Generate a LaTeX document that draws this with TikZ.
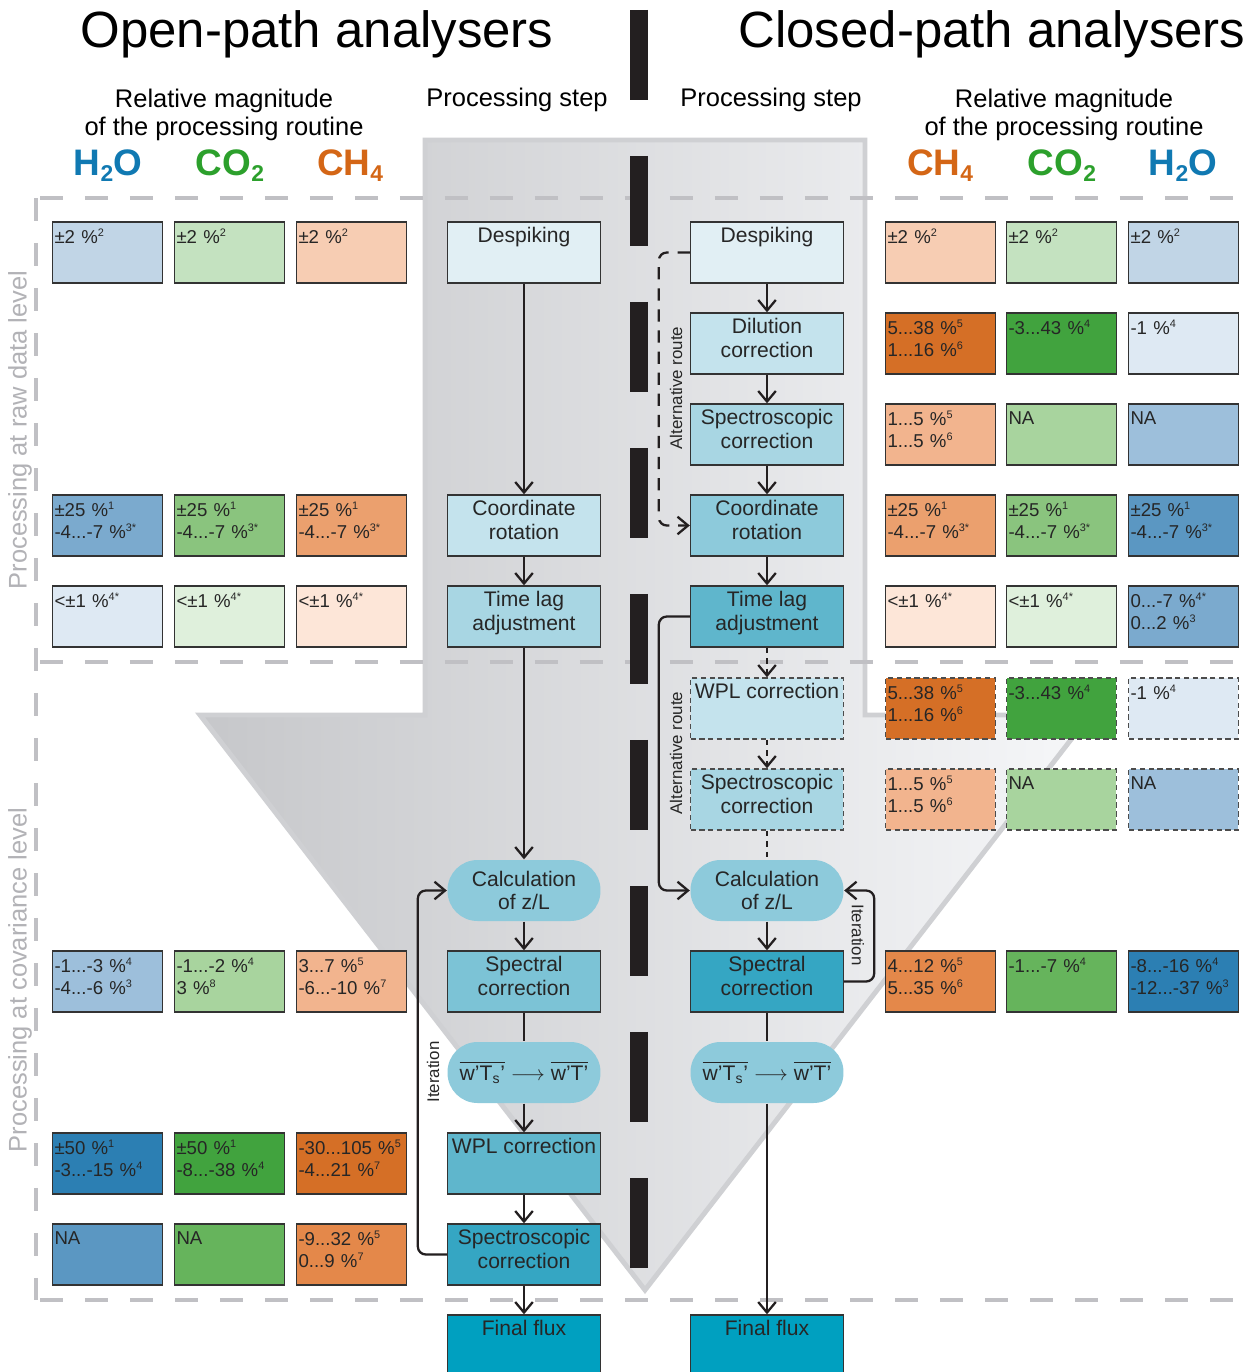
\documentclass[tikz,border=0pt]{standalone}
\usepackage{amsmath}
\usepackage{fontspec}
\setmainfont{Liberation Sans}
\usepackage{tikz}
\usetikzlibrary{positioning,arrows.meta}
\definecolor{h2oCol}{RGB}{16,121,178}
\definecolor{co2Col}{RGB}{44,160,44}
\definecolor{ch4Col}{RGB}{212,102,22}
\definecolor{h2oA}{RGB}{222,233,243}
\definecolor{h2oB}{RGB}{193,213,230}
\definecolor{h2oC}{RGB}{157,191,219}
\definecolor{h2oD}{RGB}{123,170,206}
\definecolor{h2oE}{RGB}{91,151,194}
\definecolor{h2oF}{RGB}{44,127,179}
\definecolor{co2A}{RGB}{223,240,220}
\definecolor{co2B}{RGB}{196,226,192}
\definecolor{co2C}{RGB}{168,212,158}
\definecolor{co2D}{RGB}{138,196,126}
\definecolor{co2E}{RGB}{102,180,92}
\definecolor{co2F}{RGB}{65,163,62}
\definecolor{ch4A}{RGB}{253,230,216}
\definecolor{ch4B}{RGB}{247,205,179}
\definecolor{ch4C}{RGB}{242,180,142}
\definecolor{ch4D}{RGB}{235,160,110}
\definecolor{ch4E}{RGB}{228,136,74}
\definecolor{ch4F}{RGB}{213,111,38}
\definecolor{stepA}{RGB}{225,239,244}
\definecolor{stepB}{RGB}{196,227,237}
\definecolor{stepC}{RGB}{168,214,227}
\definecolor{stepD}{RGB}{141,202,219}
\definecolor{stepDE}{RGB}{124,195,214}
\definecolor{stepE}{RGB}{95,182,204}
\definecolor{stepF}{RGB}{53,166,195}
\definecolor{stepG}{RGB}{0,160,192}
\definecolor{sepCol}{RGB}{192,192,196}
\definecolor{sideCol}{RGB}{178,178,182}
\definecolor{bigArrowL}{RGB}{198,199,202}
\definecolor{bigArrowR}{RGB}{246,247,249}
\definecolor{bigArrowEdge}{RGB}{207,208,211}
\definecolor{lineCol}{RGB}{35,31,32}
\newcommand{\magref}[1]{\textsuperscript{\fontsize{6.2}{6.2}\selectfont #1}}
\newcommand{\gassub}[1]{\raisebox{-0.3ex}{\fontsize{13}{13}\selectfont #1}}
\newcommand{\twolines}[2]{#1\\#2\rule[-6pt]{0pt}{6pt}}
\newcommand{\boxfont}{\fontsize{12}{13.6}\selectfont}
\newcommand{\valfont}{\fontsize{10.6}{12.5}\selectfont}
\newcommand{\headfont}{\fontsize{14.5}{16.4}\selectfont}
\tikzset{myProcBox/.style={draw=black!80, line width=0.8pt, minimum width=3.06cm, minimum height=1.22cm, inner sep=1pt, align=center, font=\boxfont, text=black!85}}
\tikzset{myCapsule/.style={myProcBox, draw=none, rounded corners=0.6cm, fill=stepD}}
\tikzset{myValBox/.style={draw=black!80, line width=0.8pt, minimum width=2.18cm, minimum height=1.22cm, text width=2.12cm, inner sep=1pt, align=left, font=\valfont, text=black!85}}
\tikzset{myOptional/.style={draw=black!70, dash pattern=on 3pt off 2pt}}
\tikzset{myConn/.style={line width=1.3pt, draw=lineCol, -{Straight Barb[length=6pt,width=10pt]}}}
\tikzset{mySep/.style={line width=2.3pt, draw=sepCol, dash pattern=on 0.46cm off 0.44cm}}
\tikzset{myGasLabel/.style={font=\fontsize{21}{21}\selectfont\bfseries}}
\tikzset{mySmallLabel/.style={font=\fontsize{9.6}{10}\selectfont, text=black!85}}

\begin{document}
\begin{tikzpicture}[x=0.02cm, y=-0.02cm]
	\fill[white] (0,0) rectangle (1251,1372);
	\useasboundingbox (0,0) rectangle (1251,1372);
	% big background arrow
	\draw[draw=bigArrowEdge, line width=2.8pt, left color=bigArrowL, right color=bigArrowR] (425,140) -- (865,140) -- (865,715) -- (1090,715) -- (645,1290) -- (200,715) -- (425,715) -- cycle;
	\draw[mySep] (40,198) -- (1251,198);
	\draw[mySep] (40,662) -- (1251,662);
	\draw[mySep] (40,1300) -- (1251,1300);
	\draw[mySep] (36,198) -- (36,1300);
	\draw[line width=0.36cm, draw=lineCol, dash pattern=on 1.8cm off 1.12cm] (639,10) -- (639,1268);
	
	\node[font=\fontsize{29}{30}\selectfont] (titleOpen) at (317,34) {Open-path analysers};
	\node[font=\fontsize{29}{30}\selectfont] (titleClosed) at (992,34) {Closed-path analysers};
	\node[font=\headfont, align=center] (magLeft) at (224,115) {Relative magnitude\\of the processing routine};
	\node[font=\headfont, align=center] (magRight) at (1064,115) {Relative magnitude\\of the processing routine};
	\node[font=\headfont] (stepLeft) at (517,100) {Processing step};
	\node[font=\headfont] (stepRight) at (771,100) {Processing step};
	\node[myGasLabel, text=h2oCol] (gasLA) at (108,166) {H\gassub{2}O};
	\node[myGasLabel, text=co2Col] (gasLB) at (230,166) {CO\gassub{2}};
	\node[myGasLabel, text=ch4Col] (gasLC) at (350,166) {CH\gassub{4}};
	\node[myGasLabel, text=ch4Col] (gasRA) at (940,166) {CH\gassub{4}};
	\node[myGasLabel, text=co2Col] (gasRB) at (1062,166) {CO\gassub{2}};
	\node[myGasLabel, text=h2oCol] (gasRC) at (1183,166) {H\gassub{2}O};
	\node[font=\headfont, text=sideCol, rotate=90] (sideRaw) at (20,430) {Processing at raw data level};
	\node[font=\headfont, text=sideCol, rotate=90] (sideCov) at (20,980) {Processing at covariance level};
	
	% open-path steps
	\node[myProcBox, fill=stepA] (lDespike) at (524,252.5) {\twolines{Despiking}{}};
	\node[myProcBox, fill=stepB] (lRotate) at (524,525.5) {\twolines{Coordinate}{rotation}};
	\node[myProcBox, fill=stepC] (lTimeLag) at (524,616.5) {\twolines{Time lag}{adjustment}};
	\node[myCapsule] (lZL) at (524,890.5) {Calculation\\of z/L};
	\node[myProcBox, fill=stepDE] (lSpectral) at (524,981.5) {\twolines{Spectral}{correction}};
	\node[myCapsule] (lWT) at (524,1072.5) {$\overline{\text{w’T\textsubscript{s}’}}\longrightarrow\overline{\text{w’T’}}$};
	\node[myProcBox, fill=stepE] (lWPL) at (524,1163.5) {\twolines{WPL correction}{}};
	\node[myProcBox, fill=stepF] (lSpectro) at (524,1254.5) {\twolines{Spectroscopic}{correction}};
	\node[myProcBox, fill=stepG] (lFlux) at (524,1345.5) {\twolines{Final flux}{}};
	
	% closed-path steps
	\node[myProcBox, fill=stepA] (rDespike) at (767,252.5) {\twolines{Despiking}{}};
	\node[myProcBox, fill=stepB] (rDilution) at (767,343.5) {\twolines{Dilution}{correction}};
	\node[myProcBox, fill=stepC] (rSpectro) at (767,434.5) {\twolines{Spectroscopic}{correction}};
	\node[myProcBox, fill=stepD] (rRotate) at (767,525.5) {\twolines{Coordinate}{rotation}};
	\node[myProcBox, fill=stepE] (rTimeLag) at (767,616.5) {\twolines{Time lag}{adjustment}};
	\node[myProcBox, myOptional, fill=stepB] (rWPL) at (767,708.5) {\twolines{WPL correction}{}};
	\node[myProcBox, myOptional, fill=stepC] (rSpectroB) at (767,799.5) {\twolines{Spectroscopic}{correction}};
	\node[myCapsule] (rZL) at (767,890.5) {Calculation\\of z/L};
	\node[myProcBox, fill=stepF] (rSpectral) at (767,981.5) {\twolines{Spectral}{correction}};
	\node[myCapsule] (rWT) at (767,1072.5) {$\overline{\text{w’T\textsubscript{s}’}}\longrightarrow\overline{\text{w’T’}}$};
	\node[myProcBox, fill=stepG] (rFlux) at (767,1345.5) {\twolines{Final flux}{}};
	
	\draw[myConn] (lDespike) -- (lRotate);
	\draw[myConn] (lRotate) -- (lTimeLag);
	\draw[myConn] (lTimeLag) -- (lZL);
	\draw[myConn] (lZL) -- (lSpectral);
	\draw[myConn, -] (lSpectral) -- (lWT);
	\draw[myConn] (lWT) -- (lWPL);
	\draw[myConn] (lWPL) -- (lSpectro);
	\draw[myConn] (lSpectro) -- (lFlux);
	\draw[myConn, rounded corners=0.16cm] (lSpectro.west) -- ++(-29,0) |- (lZL.west);
	\node[mySmallLabel, rotate=90] (iterLeft) at (433,1072) {Iteration};
	
	\draw[myConn] (rDespike) -- (rDilution);
	\draw[myConn] (rDilution) -- (rSpectro);
	\draw[myConn] (rSpectro) -- (rRotate);
	\draw[myConn] (rRotate) -- (rTimeLag);
	\draw[myConn, dash pattern=on 3pt off 3pt] (rTimeLag) -- (rWPL);
	\draw[myConn, dash pattern=on 3pt off 3pt] (rWPL) -- (rSpectroB);
	\draw[myConn, -, dash pattern=on 3pt off 3pt] (rSpectroB) -- (rZL);
	\draw[myConn] (rZL) -- (rSpectral);
	\draw[myConn, -] (rSpectral) -- (rWT);
	\draw[myConn] (rWT) -- (rFlux);
	\draw[myConn, dash pattern=on 7pt off 5pt, rounded corners=0.16cm] (rDespike.west) -- ++(-31,0) |- (rRotate.west);
	\node[mySmallLabel, rotate=90] (altRouteA) at (676,388) {Alternative route};
	\draw[myConn, rounded corners=0.16cm] (rTimeLag.west) -- ++(-31,0) |- (rZL.west);
	\node[mySmallLabel, rotate=90] (altRouteB) at (676,753) {Alternative route};
	\draw[myConn, rounded corners=0.16cm] (rSpectral.east) -- ++(30,0) |- (rZL.east);
	\node[mySmallLabel, rotate=-90] (iterRight) at (858,935) {Iteration};
	
	% open-path magnitudes
	\node[myValBox, fill=h2oB] (lH2oDespike) at (107.5,252.5) {\twolines{±2 \%\magref{2}}{}};
	\node[myValBox, fill=co2B] (lCo2Despike) at (229.5,252.5) {\twolines{±2 \%\magref{2}}{}};
	\node[myValBox, fill=ch4B] (lCh4Despike) at (351.5,252.5) {\twolines{±2 \%\magref{2}}{}};
	\node[myValBox, fill=h2oD] (lH2oRotate) at (107.5,525.5) {\twolines{±25 \%\magref{1}}{-4...-7 \%\magref{3*}}};
	\node[myValBox, fill=co2D] (lCo2Rotate) at (229.5,525.5) {\twolines{±25 \%\magref{1}}{-4...-7 \%\magref{3*}}};
	\node[myValBox, fill=ch4D] (lCh4Rotate) at (351.5,525.5) {\twolines{±25 \%\magref{1}}{-4...-7 \%\magref{3*}}};
	\node[myValBox, fill=h2oA] (lH2oTimeLag) at (107.5,616.5) {\twolines{<±1 \%\magref{4*}}{}};
	\node[myValBox, fill=co2A] (lCo2TimeLag) at (229.5,616.5) {\twolines{<±1 \%\magref{4*}}{}};
	\node[myValBox, fill=ch4A] (lCh4TimeLag) at (351.5,616.5) {\twolines{<±1 \%\magref{4*}}{}};
	\node[myValBox, fill=h2oC] (lH2oSpectral) at (107.5,981.5) {\twolines{-1...-3 \%\magref{4}}{-4...-6 \%\magref{3}}};
	\node[myValBox, fill=co2C] (lCo2Spectral) at (229.5,981.5) {\twolines{-1...-2 \%\magref{4}}{3 \%\magref{8}}};
	\node[myValBox, fill=ch4C] (lCh4Spectral) at (351.5,981.5) {\twolines{3...7 \%\magref{5}}{-6...-10 \%\magref{7}}};
	\node[myValBox, fill=h2oF] (lH2oWPL) at (107.5,1163.5) {\twolines{±50 \%\magref{1}}{-3...-15 \%\magref{4}}};
	\node[myValBox, fill=co2F] (lCo2WPL) at (229.5,1163.5) {\twolines{±50 \%\magref{1}}{-8...-38 \%\magref{4}}};
	\node[myValBox, fill=ch4F] (lCh4WPL) at (351.5,1163.5) {\twolines{-30...105 \%\magref{5}}{-4...21 \%\magref{7}}};
	\node[myValBox, fill=h2oE] (lH2oSpectro) at (107.5,1254.5) {\twolines{NA}{}};
	\node[myValBox, fill=co2E] (lCo2Spectro) at (229.5,1254.5) {\twolines{NA}{}};
	\node[myValBox, fill=ch4E] (lCh4Spectro) at (351.5,1254.5) {\twolines{-9...32 \%\magref{5}}{0...9 \%\magref{7}}};
	
	% closed-path magnitudes
	\node[myValBox, fill=ch4B] (rCh4Despike) at (940.5,252.5) {\twolines{±2 \%\magref{2}}{}};
	\node[myValBox, fill=co2B] (rCo2Despike) at (1061.5,252.5) {\twolines{±2 \%\magref{2}}{}};
	\node[myValBox, fill=h2oB] (rH2oDespike) at (1183.5,252.5) {\twolines{±2 \%\magref{2}}{}};
	\node[myValBox, fill=ch4F] (rCh4Dilution) at (940.5,343.5) {\twolines{5...38 \%\magref{5}}{1...16 \%\magref{6}}};
	\node[myValBox, fill=co2F] (rCo2Dilution) at (1061.5,343.5) {\twolines{-3...43 \%\magref{4}}{}};
	\node[myValBox, fill=h2oA] (rH2oDilution) at (1183.5,343.5) {\twolines{-1 \%\magref{4}}{}};
	\node[myValBox, fill=ch4C] (rCh4Spectro) at (940.5,434.5) {\twolines{1...5 \%\magref{5}}{1...5 \%\magref{6}}};
	\node[myValBox, fill=co2C] (rCo2Spectro) at (1061.5,434.5) {\twolines{NA}{}};
	\node[myValBox, fill=h2oC] (rH2oSpectro) at (1183.5,434.5) {\twolines{NA}{}};
	\node[myValBox, fill=ch4D] (rCh4Rotate) at (940.5,525.5) {\twolines{±25 \%\magref{1}}{-4...-7 \%\magref{3*}}};
	\node[myValBox, fill=co2D] (rCo2Rotate) at (1061.5,525.5) {\twolines{±25 \%\magref{1}}{-4...-7 \%\magref{3*}}};
	\node[myValBox, fill=h2oE] (rH2oRotate) at (1183.5,525.5) {\twolines{±25 \%\magref{1}}{-4...-7 \%\magref{3*}}};
	\node[myValBox, fill=ch4A] (rCh4TimeLag) at (940.5,616.5) {\twolines{<±1 \%\magref{4*}}{}};
	\node[myValBox, fill=co2A] (rCo2TimeLag) at (1061.5,616.5) {\twolines{<±1 \%\magref{4*}}{}};
	\node[myValBox, fill=h2oD] (rH2oTimeLag) at (1183.5,616.5) {\twolines{0...-7 \%\magref{4*}}{0...2 \%\magref{3}}};
	\node[myValBox, myOptional, fill=ch4F] (rCh4WPL) at (940.5,708.5) {\twolines{5...38 \%\magref{5}}{1...16 \%\magref{6}}};
	\node[myValBox, myOptional, fill=co2F] (rCo2WPL) at (1061.5,708.5) {\twolines{-3...43 \%\magref{4}}{}};
	\node[myValBox, myOptional, fill=h2oA] (rH2oWPL) at (1183.5,708.5) {\twolines{-1 \%\magref{4}}{}};
	\node[myValBox, myOptional, fill=ch4C] (rCh4SpectroB) at (940.5,799.5) {\twolines{1...5 \%\magref{5}}{1...5 \%\magref{6}}};
	\node[myValBox, myOptional, fill=co2C] (rCo2SpectroB) at (1061.5,799.5) {\twolines{NA}{}};
	\node[myValBox, myOptional, fill=h2oC] (rH2oSpectroB) at (1183.5,799.5) {\twolines{NA}{}};
	\node[myValBox, fill=ch4E] (rCh4Spectral) at (940.5,981.5) {\twolines{4...12 \%\magref{5}}{5...35 \%\magref{6}}};
	\node[myValBox, fill=co2E] (rCo2Spectral) at (1061.5,981.5) {\twolines{-1...-7 \%\magref{4}}{}};
	\node[myValBox, fill=h2oF] (rH2oSpectral) at (1183.5,981.5) {\twolines{-8...-16 \%\magref{4}}{-12...-37 \%\magref{3}}};
\end{tikzpicture}
\end{document}
